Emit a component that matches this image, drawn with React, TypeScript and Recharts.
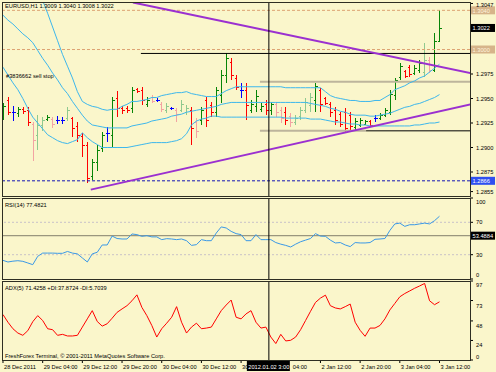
import React from 'react';
import { ComposedChart, Bar, Line, XAxis, YAxis, ReferenceLine } from 'recharts';

const BG = '#FAF6CB';
const FONT = '"Liberation Sans", Arial, Helvetica, sans-serif';
const FS = 5.7;
const X_DOMAIN: [number, number] = [-0.2, 94.15];
const PRICE_DOMAIN: [number, number] = [1.28505, 1.30485];

// ---- EURUSD H1 bars (28 Dec 2011 20:00 .. 3 Jan 2012 12:00) ----
const opens = [
  1.2933, 1.2948, 1.2936, 1.2935, 1.2939, 1.2938, 1.2924, 1.2913, 1.2923, 1.2929,
  1.2929, 1.2928, 1.2928, 1.2930, 1.2930, 1.2922, 1.2912, 1.2903, 1.2871, 1.2885,
  1.2900, 1.2915, 1.2913, 1.2951, 1.2940, 1.2940, 1.2940, 1.2960, 1.2959, 1.2944,
  1.2952, 1.2948, 1.2944, 1.2938, 1.2940, 1.2938, 1.2938, 1.2936, 1.2938, 1.2926,
  1.2928, 1.2948, 1.2943, 1.2936, 1.2954, 1.2974, 1.2987, 1.2971, 1.2959, 1.2959,
  1.2938, 1.2942, 1.2939, 1.2944, 1.2938, 1.2944, 1.2938, 1.2936, 1.2932, 1.2926,
  1.2932, 1.2938, 1.2943, 1.2948, 1.2959, 1.2951, 1.2944, 1.2938, 1.2934, 1.2936,
  1.2933, 1.2921, 1.2923, 1.2924, 1.2927, 1.2930, 1.2930, 1.2933, 1.2936, 1.2954,
  1.2972, 1.2978, 1.2982, 1.2976, 1.2979, 1.2977, 1.2989, 1.2979, 1.3009,
];
const highs = [
  1.2945, 1.2952, 1.2942, 1.2941, 1.2941, 1.2941, 1.2926, 1.2933, 1.2931, 1.2933,
  1.2931, 1.2932, 1.2931, 1.2941, 1.2931, 1.2926, 1.2915, 1.2906, 1.2888, 1.2903,
  1.2916, 1.2921, 1.2952, 1.2958, 1.2942, 1.2942, 1.2962, 1.2961, 1.2962, 1.2952,
  1.2954, 1.2951, 1.2946, 1.2945, 1.2941, 1.2940, 1.2948, 1.2943, 1.2941, 1.2930,
  1.2941, 1.2952, 1.2946, 1.2962, 1.2979, 1.2996, 1.2991, 1.2974, 1.2966, 1.2966,
  1.2948, 1.2959, 1.2945, 1.2948, 1.2946, 1.2946, 1.2941, 1.2941, 1.2935, 1.2933,
  1.2941, 1.2951, 1.2956, 1.2966, 1.2961, 1.2952, 1.2946, 1.2941, 1.2936, 1.2940,
  1.2936, 1.2930, 1.2930, 1.2928, 1.2928, 1.2933, 1.2935, 1.2940, 1.2959, 1.2971,
  1.2986, 1.2979, 1.2984, 1.2984, 1.2989, 1.3007, 1.2992, 1.3017, 1.3040,
];
const lows = [
  1.2928, 1.2933, 1.2927, 1.2931, 1.2934, 1.2922, 1.2886, 1.2897, 1.2917, 1.2927,
  1.2920, 1.2924, 1.2924, 1.2927, 1.2911, 1.2906, 1.2890, 1.2864, 1.2867, 1.2876,
  1.2895, 1.2906, 1.2901, 1.2931, 1.2934, 1.2935, 1.2935, 1.2956, 1.2943, 1.2941,
  1.2945, 1.2946, 1.2936, 1.2935, 1.2938, 1.2926, 1.2936, 1.2933, 1.2903, 1.2910,
  1.2923, 1.2921, 1.2931, 1.2931, 1.2945, 1.2966, 1.2969, 1.2959, 1.2951, 1.2928,
  1.2935, 1.2936, 1.2936, 1.2933, 1.2933, 1.2931, 1.2925, 1.2923, 1.2921, 1.2923,
  1.2928, 1.2935, 1.2936, 1.2936, 1.2936, 1.2943, 1.2931, 1.2923, 1.2921, 1.2916,
  1.2916, 1.2918, 1.2921, 1.2923, 1.2921, 1.2926, 1.2928, 1.2931, 1.2933, 1.2948,
  1.2969, 1.2971, 1.2972, 1.2974, 1.2976, 1.2972, 1.2976, 1.2977, 1.3008,
];
const closes = [
  1.2942, 1.2936, 1.2936, 1.2939, 1.2937, 1.2926, 1.2908, 1.2923, 1.2928, 1.2931,
  1.2924, 1.2928, 1.2928, 1.2938, 1.2920, 1.2913, 1.2903, 1.2869, 1.2885, 1.2897,
  1.2913, 1.2915, 1.2948, 1.2940, 1.2938, 1.2938, 1.2959, 1.2958, 1.2948, 1.2948,
  1.2947, 1.2948, 1.2939, 1.2942, 1.2940, 1.2934, 1.2944, 1.2940, 1.2920, 1.2917,
  1.2938, 1.2928, 1.2936, 1.2959, 1.2974, 1.2991, 1.2974, 1.2962, 1.2959, 1.2943,
  1.2944, 1.2953, 1.2942, 1.2938, 1.2944, 1.2936, 1.2930, 1.2928, 1.2926, 1.2930,
  1.2938, 1.2946, 1.2952, 1.2963, 1.2944, 1.2945, 1.2936, 1.2928, 1.2924, 1.2920,
  1.2922, 1.2927, 1.2928, 1.2927, 1.2923, 1.2930, 1.2933, 1.2938, 1.2955, 1.2969,
  1.2983, 1.2973, 1.2975, 1.2981, 1.2986, 1.2989, 1.2979, 1.3009, 1.3022,
];
// bar colour class: g bull, l pale bull, r bear, p pale bear, b doji
const kinds = [
  'g', 'r', 'b', 'g', 'r', 'r', 'p', 'l', 'l', 'g',
  'p', 'b', 'b', 'l', 'r', 'r', 'r', 'r', 'g', 'g',
  'g', 'b', 'g', 'r', 'r', 'r', 'g', 'r', 'r', 'g',
  'p', 'b', 'p', 'l', 'b', 'p', 'l', 'l', 'r', 'p',
  'g', 'r', 'r', 'g', 'g', 'g', 'r', 'r', 'b', 'r',
  'g', 'g', 'g', 'r', 'g', 'p', 'p', 'r', 'p', 'l',
  'l', 'l', 'l', 'g', 'r', 'r', 'r', 'r', 'r', 'r',
  'r', 'g', 'g', 'g', 'r', 'b', 'g', 'g', 'g', 'g',
  'g', 'r', 'r', 'g', 'g', 'l', 'p', 'g', 'g',
];

// ---- Bollinger bands ----
const bbUpper = [
  1.3095, 1.3092, 1.3089, 1.3086, 1.3083, 1.3079, 1.3074, 1.3064, 1.3050, 1.3037,
  1.3023, 1.3009, 1.2995, 1.2983, 1.2971, 1.2957, 1.2947, 1.2944, 1.2942, 1.2941,
  1.2939, 1.2938, 1.2939, 1.2939, 1.2942, 1.2944, 1.2947, 1.2947, 1.2948, 1.2949,
  1.2951, 1.2951, 1.2953, 1.2954, 1.2955, 1.2956, 1.2956, 1.2957, 1.2955, 1.2954,
  1.2953, 1.2952, 1.2952, 1.2952, 1.2955, 1.2958, 1.2960, 1.2962, 1.2962, 1.2962,
  1.2962, 1.2962, 1.2962, 1.2962, 1.2962, 1.2962, 1.2962, 1.2961, 1.2961, 1.2961,
  1.2961, 1.2961, 1.2961, 1.2961, 1.2961, 1.2957, 1.2953, 1.2951, 1.2950, 1.2949,
  1.2948, 1.2948, 1.2947, 1.2947, 1.2947, 1.2948, 1.2948, 1.2951, 1.2954, 1.2959,
  1.2961, 1.2963, 1.2966, 1.2968, 1.2971, 1.2973, 1.2977, 1.2981, 1.2985,
];
const bbMiddle = [
  1.3035, 1.3030, 1.3026, 1.3021, 1.3016, 1.3012, 1.3007, 1.2999, 1.2991, 1.2984,
  1.2976, 1.2969, 1.2961, 1.2955, 1.2947, 1.2940, 1.2933, 1.2927, 1.2923, 1.2922,
  1.2921, 1.2920, 1.2920, 1.2920, 1.2920, 1.2920, 1.2922, 1.2923, 1.2924, 1.2925,
  1.2927, 1.2928, 1.2929, 1.2930, 1.2932, 1.2933, 1.2934, 1.2936, 1.2937, 1.2938,
  1.2939, 1.2940, 1.2941, 1.2942, 1.2944, 1.2945, 1.2946, 1.2946, 1.2946, 1.2946,
  1.2946, 1.2946, 1.2946, 1.2946, 1.2946, 1.2946, 1.2946, 1.2946, 1.2946, 1.2946,
  1.2946, 1.2946, 1.2945, 1.2944, 1.2943, 1.2942, 1.2940, 1.2939, 1.2937, 1.2936,
  1.2934, 1.2933, 1.2933, 1.2933, 1.2932, 1.2932, 1.2933, 1.2934, 1.2935, 1.2937,
  1.2939, 1.2941, 1.2942, 1.2944, 1.2945, 1.2947, 1.2949, 1.2951, 1.2954,
];
const bbLower = [
  1.2982, 1.2974, 1.2966, 1.2959, 1.2950, 1.2940, 1.2931, 1.2925, 1.2919, 1.2913,
  1.2910, 1.2907, 1.2905, 1.2904, 1.2906, 1.2908, 1.2915, 1.2910, 1.2906, 1.2903,
  1.2900, 1.2900, 1.2900, 1.2900, 1.2900, 1.2900, 1.2901, 1.2902, 1.2903, 1.2904,
  1.2905, 1.2905, 1.2905, 1.2905, 1.2906, 1.2907, 1.2909, 1.2914, 1.2923, 1.2927,
  1.2929, 1.2930, 1.2932, 1.2932, 1.2931, 1.2931, 1.2931, 1.2931, 1.2931, 1.2931,
  1.2931, 1.2931, 1.2931, 1.2931, 1.2931, 1.2931, 1.2931, 1.2930, 1.2930, 1.2930,
  1.2930, 1.2930, 1.2929, 1.2929, 1.2929, 1.2928, 1.2927, 1.2926, 1.2926, 1.2925,
  1.2924, 1.2924, 1.2923, 1.2923, 1.2922, 1.2922, 1.2922, 1.2922, 1.2922, 1.2922,
  1.2922, 1.2922, 1.2922, 1.2923, 1.2923, 1.2924, 1.2925, 1.2925, 1.2926,
];

// ---- RSI(14) ----
const rsi = [
  23, 21, 22, 22.6, 21.8, 19.8, 17.7, 28, 32, 32,
  32, 31.7, 31.7, 34, 32, 31, 26, 21, 31, 33,
  42, 42, 53, 50, 49.4, 49.4, 55.6, 54.8, 52.7, 53.5,
  52, 52, 48.6, 49.8, 49.4, 48.6, 49.4, 47.3, 41.5, 42.4,
  48.6, 47.3, 47.3, 56.8, 64.3, 63, 58.8, 56, 54.8, 47.3,
  47.3, 54.8, 48.6, 48.6, 48.6, 45, 43, 41.5, 39.5, 43,
  46, 48, 50, 56, 53, 52.7, 48, 44.5, 45, 42,
  40, 45, 44.5, 44.5, 45, 49, 49.4, 50, 60, 68,
  69, 65, 67, 67, 68, 69, 68, 72, 77.48,
];

// ---- ADX(5) ----
const adx = [
  55.8, 46.4, 38.4, 33.1, 30.3, 36, 47, 54.5, 48.5, 38.4,
  37.2, 30.3, 31.5, 29.5, 29.5, 30.3, 40.4, 50.5, 60.6, 47.3,
  41.6, 44.5, 51.3, 58.5, 62.7, 66.7, 72.7, 80, 64.6, 54.5,
  42.4, 28.2, 38.4, 45.2, 52.5, 65.5, 46.4, 33.1, 40.4, 45.2,
  38.4, 39.2, 40.4, 50.5, 60.6, 67.5, 73.6, 52.5, 50.5, 56.6,
  60.6, 46.4, 39.2, 40.4, 28.2, 20.2, 31.5, 23.4, 24.2, 28.2,
  37.2, 48.5, 59.8, 70.7, 76, 79.6, 66.7, 63.9, 62.7, 65.5,
  68.7, 46.4, 36.4, 29.1, 39.2, 39.2, 42.4, 50.5, 61.5, 69.5,
  77.6, 81.6, 84.8, 88.1, 90.9, 94, 72.7, 67.9, 71.43,
];

// ---- axes, levels, drawn objects ----
const timeTickIdx = [0, 8, 16, 24, 32, 40, 48, 56, 64, 72, 80, 88];
// visible parts of the time labels (two are partly hidden by the crosshair date box)
const timeTickLabels = [
  '28 Dec 2011', '29 Dec 04:00', '29 Dec 12:00', '29 Dec 20:00', '30 Dec 04:00', '30 Dec 12:00',
  '30', '04:00', '2 Jan 12:00', '2 Jan 20:00', '3 Jan 04:00', '3 Jan 12:00',
];
const timeTickShift = [0, 0, 0, 0, 0, 0, 0, 11, 0, 0, 0, 0];
const priceTicks = [1.3047, 1.2975, 1.295, 1.2925, 1.29, 1.2875, 1.2855];
const rsiTicks = [100, 70, 30, 0];
const adxTicks = [97, 73, 48, 24, 0];
const crossIndex = 53.6;
const crossLabel = '2012.01.02 3:00';
const rsiCross = 53.4884;
const orderLevels = [1.304, 1.3];
const bidPrice = 1.3022;
const lowLevel = 1.2866;
const trendDown = [[26.2, 1.3048], [94.2, 1.2976]];
const trendUp = [[17.7, 1.2857], [94.2, 1.2944]];
const resistance = [[27.8, 1.2996], [94.2, 1.2996]];
const grayLevel = [[51.8, 1.2967], [94.2, 1.2967]];
const supportGray = [[51.8, 1.2917], [73.2, 1.2917]];
const supportBlack = [[73.2, 1.2917], [94.2, 1.2917]];

const rows = opens.map((o, i) => ({
  i,
  open: o,
  high: highs[i],
  low: lows[i],
  close: closes[i],
  range: [lows[i], highs[i]],
  kind: kinds[i],
  up: bbUpper[i],
  mid: bbMiddle[i],
  lo: bbLower[i],
  rsi: rsi[i],
  adx: adx[i],
}));

const barColors: Record<string, string> = {
  g: '#078507',
  l: '#8FC98F',
  r: '#FF0000',
  p: '#F3A3A3',
  b: '#0000FF',
};

const OhlcShape = (props: any) => {
  const { x, y, width, height, payload } = props;
  if (x == null || y == null || !payload) return null;
  const top = Math.min(y, y + height);
  const bottom = Math.max(y, y + height);
  const span = payload.high - payload.low;
  const toY = (p: number) => (span > 0 ? top + ((payload.high - p) / span) * (bottom - top) : top);
  const cx = Math.round(x + width / 2) + 0.5;
  const oy = Math.round(toY(payload.open)) + 0.5;
  const cy = Math.round(toY(payload.close)) + 0.5;
  const c = barColors[payload.kind] || '#000';
  return (
    <g stroke={c} strokeWidth={1} shapeRendering="crispEdges">
      <line x1={cx} x2={cx} y1={top} y2={Math.max(bottom, top + 1)} />
      <line x1={cx - 2} x2={cx} y1={oy} y2={oy} />
      <line x1={cx} x2={cx + 2} y1={cy} y2={cy} />
    </g>
  );
};

const makeYTick = (fmt: (v: number) => string, dyFor: (v: number) => number) => (props: any) => {
  const { x, y, payload } = props;
  const v = payload.value;
  return (
    <text x={x} y={y} dy={dyFor(v)} fontSize={FS} fontFamily={FONT} fill="#000" textAnchor="start">
      {fmt(v)}
    </text>
  );
};

const TimeTick = (props: any) => {
  const { x, y, payload } = props;
  const k = timeTickIdx.indexOf(payload.value);
  if (k < 0) return null;
  return (
    <text x={x + 1 + timeTickShift[k]} y={y} dy={6} fontSize={FS} fontFamily={FONT} fill="#000" textAnchor="start">
      {timeTickLabels[k]}
    </text>
  );
};

const Tag = (props: any) => {
  const { viewBox, text, fill, color } = props;
  if (!viewBox) return null;
  const bx = viewBox.x + viewBox.width + 1;
  return (
    <g>
      <rect x={bx} y={viewBox.y - 4} width={24} height={8} fill={fill} />
      <text x={bx + 1.5} y={viewBox.y + 2.2} fontSize={FS} fontFamily={FONT} fill={color}>
        {text}
      </text>
    </g>
  );
};

const TimeTag = (props: any) => {
  const { viewBox } = props;
  if (!viewBox) return null;
  const cx = viewBox.x;
  const by = viewBox.y + viewBox.height + 1;
  return (
    <g>
      <rect x={cx - 22} y={by} width={43} height={10} fill="#000" />
      <text x={cx} y={by + 7.5} fontSize={FS} fontFamily={FONT} fill="#fff" textAnchor="middle">
        {crossLabel}
      </text>
    </g>
  );
};

const seg = (s: number[][]) => [
  { x: s[0][0], y: s[0][1] },
  { x: s[1][0], y: s[1][1] },
];

const BB = '#3DB7EC';
const PURPLE = '#9B30D0';

export default function App() {
  const priceTick = makeYTick(
    (v) => v.toFixed(4),
    (v) => (v === 1.3047 ? 3.5 : 2),
  );
  const rsiTick = makeYTick(
    (v) => String(v),
    (v) => (v === 100 ? 6 : v === 0 ? -2 : 2),
  );
  const adxTick = makeYTick(
    (v) => String(v),
    (v) => (v === 97 ? 6 : v === 0 ? -1.3 : 7),
  );

  return (
    <div
      style={{
        position: 'absolute',
        left: 0,
        top: 0,
        width: 496,
        height: 372,
        background: BG,
        overflow: 'hidden',
        fontFamily: FONT,
      }}
    >
      {/* main price panel */}
      <div style={{ position: 'absolute', left: 0, top: 0 }}>
        <ComposedChart width={496} height={198} data={rows} margin={{ top: 2, right: 0, bottom: 2, left: 2 }}>
          <XAxis type="number" dataKey="i" domain={X_DOMAIN} allowDataOverflow hide />
          <YAxis
            orientation="right"
            type="number"
            domain={PRICE_DOMAIN}
            allowDataOverflow
            ticks={priceTicks}
            interval={0}
            width={26}
            axisLine={false}
            tickLine={{ stroke: '#000' }}
            tickSize={3}
            tickMargin={3}
            tick={priceTick}
          />
          <ReferenceLine
            y={orderLevels[0]}
            stroke="#DDA272"
            strokeDasharray="3 2"
            ifOverflow="visible"
            label={<Tag text={orderLevels[0].toFixed(4)} fill="#D6B48A" color="#FFF4DE" />}
          />
          <ReferenceLine
            y={orderLevels[1]}
            stroke="#DDA272"
            strokeDasharray="3 2"
            ifOverflow="visible"
            label={<Tag text={orderLevels[1].toFixed(4)} fill="#D6B48A" color="#FFF4DE" />}
          />
          <ReferenceLine
            y={bidPrice}
            stroke="transparent"
            ifOverflow="visible"
            label={<Tag text={bidPrice.toFixed(4)} fill="#000" color="#fff" />}
          />
          <ReferenceLine
            y={lowLevel}
            stroke="#1414B4"
            strokeDasharray="3 2"
            ifOverflow="visible"
            label={<Tag text={lowLevel.toFixed(4)} fill="#2F4FF0" color="#fff" />}
          />
          <ReferenceLine segment={seg(grayLevel)} stroke="#BDB59C" strokeWidth={2} ifOverflow="hidden" />
          <ReferenceLine segment={seg(supportGray)} stroke="#BDB59C" strokeWidth={2} ifOverflow="hidden" />
          <ReferenceLine segment={seg(supportBlack)} stroke="#000" strokeWidth={1} ifOverflow="hidden" />
          <ReferenceLine segment={seg(resistance)} stroke="#000" strokeWidth={1} ifOverflow="hidden" />
          <Line dataKey="up" stroke={BB} strokeWidth={1} dot={false} isAnimationActive={false} />
          <Line dataKey="mid" stroke={BB} strokeWidth={1} dot={false} isAnimationActive={false} />
          <Line dataKey="lo" stroke={BB} strokeWidth={1} dot={false} isAnimationActive={false} />
          <Bar dataKey="range" barSize={5} shape={OhlcShape} isAnimationActive={false} />
          <ReferenceLine segment={seg(trendDown)} stroke={PURPLE} strokeWidth={2} ifOverflow="hidden" />
          <ReferenceLine segment={seg(trendUp)} stroke={PURPLE} strokeWidth={2} ifOverflow="hidden" />
          <ReferenceLine x={crossIndex} stroke="#000" strokeWidth={1} ifOverflow="visible" />
        </ComposedChart>
      </div>

      {/* RSI panel */}
      <div style={{ position: 'absolute', left: 0, top: 196 }}>
        <ComposedChart width={496} height={85} data={rows} margin={{ top: 2, right: 0, bottom: 2, left: 2 }}>
          <XAxis type="number" dataKey="i" domain={X_DOMAIN} allowDataOverflow hide />
          <YAxis
            orientation="right"
            type="number"
            domain={[0, 100]}
            ticks={rsiTicks}
            interval={0}
            width={26}
            axisLine={false}
            tickLine={{ stroke: '#000' }}
            tickSize={3}
            tickMargin={3}
            tick={rsiTick}
          />
          <ReferenceLine y={70} stroke="#C9C2C8" strokeDasharray="2 2" ifOverflow="visible" />
          <ReferenceLine y={30} stroke="#C9C2C8" strokeDasharray="2 2" ifOverflow="visible" />
          <ReferenceLine
            y={rsiCross}
            stroke="#9A967E"
            strokeWidth={1.4}
            ifOverflow="visible"
            label={<Tag text={rsiCross.toFixed(4)} fill="#000" color="#fff" />}
          />
          <Line dataKey="rsi" stroke="#3A98E6" strokeWidth={1} dot={false} isAnimationActive={false} />
          <ReferenceLine x={crossIndex} stroke="#000" strokeWidth={1} ifOverflow="visible" />
        </ComposedChart>
      </div>

      {/* ADX panel + time axis */}
      <div style={{ position: 'absolute', left: 0, top: 279 }}>
        <ComposedChart width={496} height={93} data={rows} margin={{ top: 2, right: 0, bottom: 0, left: 2 }}>
          <XAxis
            type="number"
            dataKey="i"
            domain={X_DOMAIN}
            allowDataOverflow
            ticks={timeTickIdx}
            interval={0}
            height={12}
            axisLine={false}
            tickLine={{ stroke: '#000' }}
            tickSize={3}
            tickMargin={0}
            tick={<TimeTick />}
          />
          <YAxis
            orientation="right"
            type="number"
            domain={[0, 97]}
            allowDataOverflow
            ticks={adxTicks}
            interval={0}
            width={26}
            axisLine={false}
            tickLine={{ stroke: '#000' }}
            tickSize={3}
            tickMargin={3}
            tick={adxTick}
          />
          <Line dataKey="adx" stroke="#FF0000" strokeWidth={1} dot={false} isAnimationActive={false} />
          <ReferenceLine x={crossIndex} stroke="#000" strokeWidth={1} ifOverflow="visible" label={<TimeTag />} />
        </ComposedChart>
      </div>

      {/* frames and captions */}
      <svg
        width={496}
        height={372}
        style={{ position: 'absolute', left: 0, top: 0, pointerEvents: 'none' }}
      >
        <g fill="none" stroke="#2E2E22" strokeWidth={1} shapeRendering="crispEdges">
          <rect x={2.5} y={2.5} width={468} height={194} />
          <rect x={2.5} y={198.5} width={468} height={81} />
          <rect x={2.5} y={281.5} width={468} height={79} />
        </g>
        <g fontFamily={FONT} fontSize={FS} fill="#000">
          <text x={5} y={8.2}>EURUSD,H1  1.3009 1.3040 1.3008 1.3022</text>
          <text x={6} y={77.5}>#3836662 sell stop</text>
          <text x={5} y={206.5}>RSI(14) 77.4821</text>
          <text x={5} y={289.5}>ADX(5) 71.4258 +DI:37.8724 -DI:5.7039</text>
          <text x={5} y={357.5}>FreshForex Terminal, © 2001-2011 MetaQuotes Software Corp.</text>
        </g>
      </svg>
    </div>
  );
}
